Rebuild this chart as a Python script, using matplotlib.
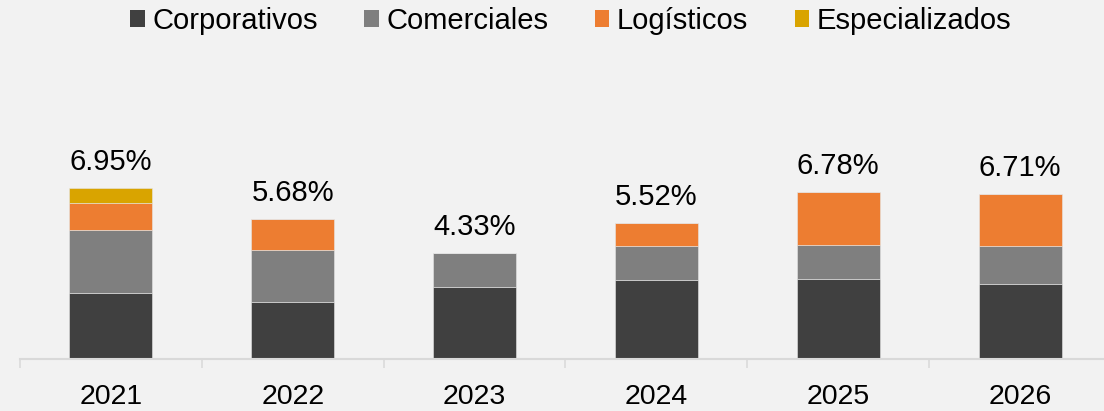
import matplotlib

matplotlib.use("Agg")
import matplotlib.pyplot as plt
import numpy as np
from matplotlib.patches import Patch

plt.rcParams["font.family"] = ["Liberation Sans", "DejaVu Sans"]

years = ["2021", "2022", "2023", "2024", "2025", "2026"]
series_names = ["Corporativos", "Comerciales", "Logísticos", "Especializados"]
corporativos = [2.68, 2.34, 2.94, 3.21, 3.26, 3.07]
comerciales = [2.58, 2.08, 1.39, 1.40, 1.39, 1.52]
logisticos = [1.08, 1.26, 0.00, 0.91, 2.13, 2.12]
especializados = [0.61, 0.00, 0.00, 0.00, 0.00, 0.00]
totals = [6.95, 5.68, 4.33, 5.52, 6.78, 6.71]

colors = ["#404040", "#7f7f7f", "#ed7d31", "#d9a400"]
bg = "#f2f2f2"
axis_color = "#d9d9d9"

W, H = 1104, 411
fig = plt.figure(figsize=(W / 100, H / 100), dpi=100, facecolor=bg)

# axis spans a bit past the right edge, like the original
ax_h = 0.73
ax = fig.add_axes([20 / W, (H - 359.3) / H, 1091 / W, ax_h])
ax.set_facecolor(bg)

x = np.arange(len(years))
bottom = np.zeros(len(years))
for vals, col in zip([corporativos, comerciales, logisticos, especializados], colors):
    vals = np.array(vals)
    ax.bar(x, vals, 0.456, bottom=bottom, color=col, edgecolor="#e6e6e6",
           linewidth=0.4, zorder=2)
    bottom += vals

for xi, t in zip(x, totals):
    ax.annotate(f"{t:.2f}%", (xi, t), xytext=(0, 13), textcoords="offset points",
                ha="center", va="baseline", fontsize=21, color="#000000")

ax.set_xlim(-0.5, len(years) - 0.5)
ax.set_ylim(0, ax_h * H / 24.65)

for side in ["top", "right", "left"]:
    ax.spines[side].set_visible(False)
ax.spines["bottom"].set_color(axis_color)
ax.spines["bottom"].set_linewidth(1.5)
ax.set_yticks([])

ax.set_xticks(x)
ax.set_xticklabels(years, fontsize=20.5)
ax.tick_params(axis="x", which="major", length=0, pad=17.5, colors="#000000")
ax.set_xticks(np.arange(-0.5, len(years)), minor=True)
ax.tick_params(axis="x", which="minor", length=6.5, width=1.1, color=axis_color)

handles = [Patch(facecolor=c, edgecolor="none") for c in colors]
fig.legend(handles, series_names, loc="center", bbox_to_anchor=(0.517, 0.95),
           ncol=4, frameon=False, fontsize=21, handlelength=0.5, handleheight=0.5,
           handletextpad=0.25, columnspacing=1.6, borderpad=0)

fig.savefig("out.png", dpi=100, facecolor=bg)
